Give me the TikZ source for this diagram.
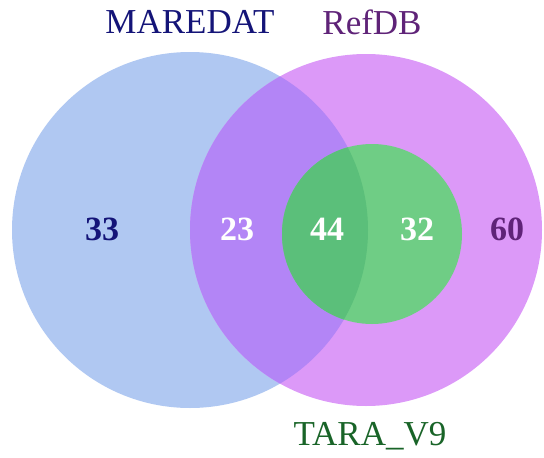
\documentclass[tikz,border=0pt]{standalone}
\usepackage{fontspec}
\setmainfont{Liberation Serif}

\definecolor{maredatblue}{RGB}{176,200,242}
\definecolor{refdbpink}{RGB}{220,153,248}
\definecolor{bothpurple}{RGB}{179,133,246}
\definecolor{taragreen}{RGB}{111,205,133}
\definecolor{alldarkgreen}{RGB}{91,191,122}
\definecolor{navytext}{RGB}{20,20,120}
\definecolor{plumtext}{RGB}{95,35,120}
\definecolor{greentext}{RGB}{25,100,40}

\begin{document}
\begin{tikzpicture}[x=1pt, y=-1pt,
    setname/.style={anchor=base, font=\fontsize{35}{35}\selectfont},
    count/.style={anchor=base, font=\fontsize{34}{34}\selectfont\bfseries}]
\useasboundingbox (0,0) rectangle (544,458);

\coordinate (maredat) at (190,230);
\coordinate (refdb) at (366,230);
\coordinate (tara) at (372,234);

% the three sets
\fill[maredatblue] (maredat) circle [radius=178];
\fill[refdbpink] (refdb) circle [radius=176];
\begin{scope}
  \clip (maredat) circle [radius=178];
  \fill[bothpurple] (refdb) circle [radius=176];
\end{scope}
\fill[taragreen] (tara) circle [radius=90];
\begin{scope}
  \clip (maredat) circle [radius=178];
  \fill[alldarkgreen] (tara) circle [radius=90];
\end{scope}

% set names
\node[setname, text=navytext] (maredatname) at (190,33) {MAREDAT};
\node[setname, text=plumtext] (refdbname) at (372,34) {RefDB};
\node[setname, text=greentext] (taraname) at (370,445) {TARA\_V9};

% counts
\node[count, text=navytext] (onlymaredat) at (102,240) {33};
\node[count, text=white] (maredatrefdb) at (237,240) {23};
\node[count, text=white] (allthree) at (327,240) {44};
\node[count, text=white] (refdbtara) at (417,240) {32};
\node[count, text=plumtext] (onlyrefdb) at (507,240) {60};
\end{tikzpicture}
\end{document}
